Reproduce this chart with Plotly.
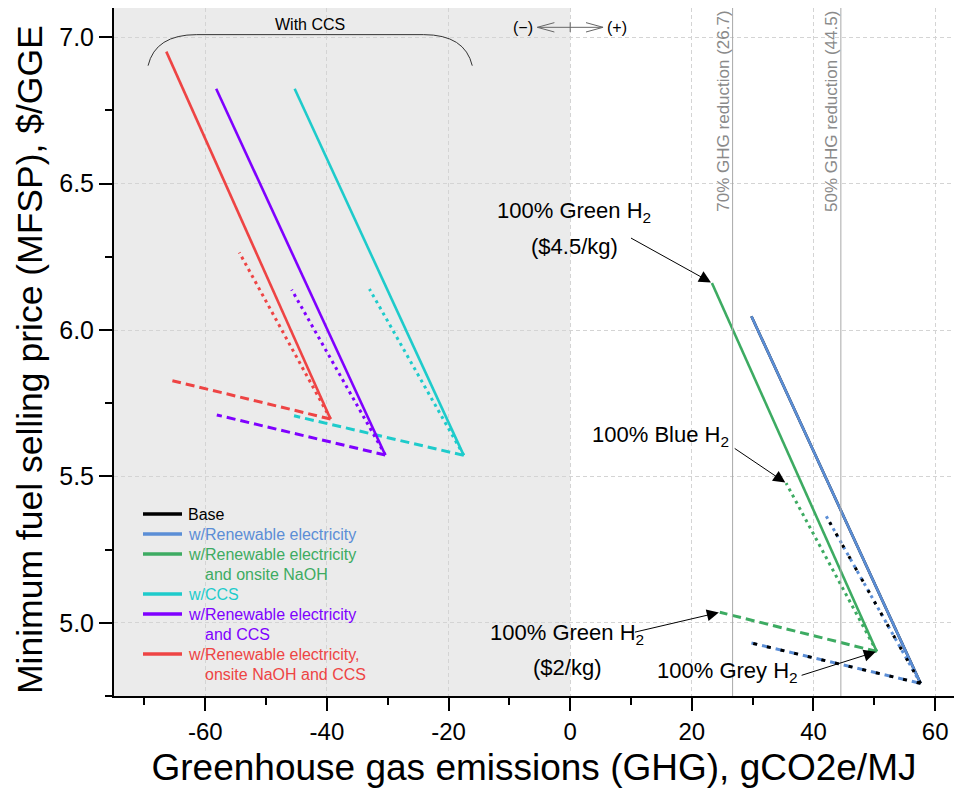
import plotly.graph_objects as go

# ---------------- data ----------------
scenarios = ["Base", "w/Renewable electricity", "w/Renewable electricity and onsite NaOH",
             "w/CCS", "w/Renewable electricity and CCS",
             "w/Renewable electricity, onsite NaOH and CCS"]
legend_labels = [["Base"], ["w/Renewable electricity"],
                 ["w/Renewable electricity", "and onsite NaOH"],
                 ["w/CCS"],
                 ["w/Renewable electricity", "and CCS"],
                 ["w/Renewable electricity,", "onsite NaOH and CCS"]]
colors = ["#000000", "#5b8ed6", "#3dab62", "#1ecbcb", "#7f00ff", "#ee4444"]

# 100% Grey H2 (common vertex)
grey_x = [57.6, 57.6, 50.4, -17.5, -30.4, -39.4]
grey_y = [4.793, 4.793, 4.902, 5.572, 5.573, 5.696]
# 100% Green H2 ($4.5/kg)  -> solid
green45_x = [29.8, 29.8, 23.3, -45.3, -58.2, -66.4]
green45_y = [6.047, 6.047, 6.161, 6.824, 6.824, 6.951]
# 100% Blue H2 -> dotted
blue_x = [42.1, 42.1, 35.5, -33.0, -45.8, -54.4]
blue_y = [5.364, 5.364, 5.477, 6.140, 6.138, 6.265]
# 100% Green H2 ($2/kg) -> dashed
green2_x = [29.8, 29.8, 24.6, -45.4, -58.1, -65.4]
green2_y = [4.931, 4.931, 5.036, 5.707, 5.710, 5.827]

ghg_thresholds = [26.7, 44.5]
threshold_labels = ["70% GHG reduction (26.7)", "50% GHG reduction (44.5)"]

x_tickvals = [-60, -40, -20, 0, 20, 40, 60]
x_ticktext = ["-60", "-40", "-20", "0", "20", "40", "60"]
y_tickvals = [5.0, 5.5, 6.0, 6.5, 7.0]
y_ticktext = ["5.0", "5.5", "6.0", "6.5", "7.0"]

X_RANGE = [-75, 63.1]
Y_RANGE = [4.75, 7.1]
FONT = "Arial, Liberation Sans, sans-serif"

# plot-area geometry (pixels) used for the hand-made legend / titles
W, H = 956, 807
ML, MR, MT, MB = 114, 2, 8, 111
PW, PH = W - ML - MR, H - MT - MB


def px_x(p):
    return (p - ML) / PW


def px_y(p):
    return (H - MB - p) / PH


fig = go.Figure()

SOLID_W = 2.6
DOT = "3px,4px"
DASH = "9px,5px"


def add_scenario(i, solid=True, others=True, dot=DOT, dash=DASH, width=3):
    c = colors[i]
    if solid:
        fig.add_trace(go.Scatter(x=[grey_x[i], green45_x[i]], y=[grey_y[i], green45_y[i]],
                                 mode="lines", line=dict(color=c, width=SOLID_W),
                                 name=scenarios[i], showlegend=False, hoverinfo="skip"))
    if others:
        fig.add_trace(go.Scatter(x=[grey_x[i], blue_x[i]], y=[grey_y[i], blue_y[i]],
                                 mode="lines", line=dict(color=c, width=width, dash=dot),
                                 showlegend=False, hoverinfo="skip"))
        fig.add_trace(go.Scatter(x=[grey_x[i], green2_x[i]], y=[grey_y[i], green2_y[i]],
                                 mode="lines", line=dict(color=c, width=width, dash=dash),
                                 showlegend=False, hoverinfo="skip"))


add_scenario(0, solid=True, others=False)
add_scenario(1)
add_scenario(0, solid=False, others=True, dot="3px,10px", dash="4px,10px", width=3)
for i in range(2, 6):
    add_scenario(i)

# ---------------- shapes ----------------
shapes = []
shapes.append(dict(type="rect", xref="x", yref="paper", x0=X_RANGE[0], x1=0, y0=0, y1=1,
                   fillcolor="#ebebeb", line=dict(width=0), layer="below"))
for t in ghg_thresholds:
    shapes.append(dict(type="line", xref="x", yref="paper", x0=t, x1=t, y0=0, y1=1,
                       line=dict(color="#a8a8a8", width=1)))
# "With CCS" bracket
shapes.append(dict(type="path", xref="x", yref="y",
                   path="M -69.4,6.903 Q -68.2,7.009 -61.4,7.009 L -24.1,7.009 Q -17.3,7.009 -16.1,6.903",
                   line=dict(color="#333333", width=1)))
# (-) <--|--> (+) indicator
shapes.append(dict(type="path", xref="x", yref="y",
                   path="M -5.4,7.034 L 5.4,7.034 M -2.6,7.050 L -5.4,7.034 L -2.6,7.018 "
                        "M 2.6,7.050 L 5.4,7.034 L 2.6,7.018 M 0,7.018 L 0,7.051",
                   line=dict(color="#666666", width=1)))

# ---------------- annotations ----------------
ann = []
ann.append(dict(x=-42.8, y=7.042, text="With CCS", showarrow=False,
                font=dict(size=16, color="#000000", family=FONT)))
ann.append(dict(x=-7.8, y=7.034, text="(\u2212)", showarrow=False,
                font=dict(size=16, color="#000000", family=FONT)))
ann.append(dict(x=7.7, y=7.034, text="(+)", showarrow=False,
                font=dict(size=16, color="#000000", family=FONT)))
for t, lbl in zip(ghg_thresholds, threshold_labels):
    ann.append(dict(x=t, y=6.748, text=lbl, showarrow=False, textangle=-90,
                    xshift=-10, font=dict(size=17, color="#8a8a8a", family=FONT)))

AF = dict(size=22, color="#000000", family=FONT)
ann.append(dict(x=0.66, y=6.403, text="100% Green H<sub>2</sub>", showarrow=False, font=AF))
ann.append(dict(x=0.66, y=6.287, text="($4.5/kg)", showarrow=False, font=AF))
ann.append(dict(x=14.8, y=5.638, text="100% Blue H<sub>2</sub>", showarrow=False, font=AF))
ann.append(dict(x=-0.5, y=4.962, text="100% Green H<sub>2</sub>", showarrow=False, font=AF))
ann.append(dict(x=-0.5, y=4.849, text="($2/kg)", showarrow=False, font=AF))
ann.append(dict(x=25.8, y=4.832, text="100% Grey H<sub>2</sub>", showarrow=False, font=AF))

arrow_tails = [(9.75, 6.317), (26.8, 5.599), (10.4, 4.967), (37.8, 4.819)]
arrow_tips = [(green45_x[2], green45_y[2]), (blue_x[2], blue_y[2]),
              (green2_x[2], green2_y[2]), (grey_x[2], grey_y[2])]
for (tx, ty), (hx, hy) in zip(arrow_tails, arrow_tips):
    ann.append(dict(x=hx, y=hy, ax=tx, ay=ty, axref="x", ayref="y", text="",
                    showarrow=True, arrowhead=2, arrowsize=2.4, arrowwidth=1,
                    arrowcolor="#000000", standoff=1))

# y-axis title placed like the original (centred slightly below the plot centre)
ann.append(dict(xref="paper", yref="paper", x=px_x(30), y=px_y(360),
                xanchor="center", yanchor="middle", textangle=-90, showarrow=False,
                text="Minimum fuel selling price (MFSP), $/GGE",
                font=dict(size=35.5, color="#000000", family=FONT)))

# ---------------- hand-made legend (tight line spacing like the original) ----------------
LEG_X0, LEG_X1, LEG_TXT, LEG_INDENT = 143, 182, 186, 203   # pixels
LEG_Y0, LEG_DY = 514, 20

row = 0
for i, lines in enumerate(legend_labels):
    yc = LEG_Y0 + row * LEG_DY
    shapes.append(dict(type="line", xref="paper", yref="paper",
                       x0=px_x(LEG_X0), x1=px_x(LEG_X1), y0=px_y(yc), y1=px_y(yc),
                       line=dict(color=colors[i], width=3.5)))
    for k, txt in enumerate(lines):
        yl = LEG_Y0 + (row + k) * LEG_DY
        ann.append(dict(xref="paper", yref="paper", x=px_x(LEG_TXT if k == 0 else LEG_INDENT),
                        y=px_y(yl), xanchor="left", yanchor="middle", text=txt,
                        showarrow=False, font=dict(size=16, color=colors[i], family=FONT)))
    row += len(lines)

fig.update_layout(
    width=W, height=H,
    margin=dict(l=ML, r=MR, t=MT, b=MB),
    paper_bgcolor="white", plot_bgcolor="white",
    font=dict(family=FONT, color="#000000"),
    shapes=shapes, annotations=ann,
    showlegend=False,
)
fig.update_xaxes(range=X_RANGE, tickvals=x_tickvals, ticktext=x_ticktext,
                 showline=True, linecolor="black", linewidth=2, mirror=False,
                 ticks="outside", ticklen=13, tickwidth=2, tickcolor="black",
                 minor=dict(ticks="outside", ticklen=7, tickwidth=2, tickcolor="black",
                            dtick=10, tick0=0, showgrid=False),
                 showgrid=True, gridcolor="#d4d4d4", gridwidth=1, griddash="4px,3px",
                 zeroline=False, tickfont=dict(size=24, family=FONT),
                 title=dict(text="Greenhouse gas emissions (GHG), gCO2e/MJ",
                            font=dict(size=37, family=FONT), standoff=10))
fig.update_yaxes(range=Y_RANGE, tickvals=y_tickvals, ticktext=y_ticktext,
                 showline=True, linecolor="black", linewidth=2, mirror=False,
                 ticks="outside", ticklen=13, tickwidth=2, tickcolor="black",
                 minor=dict(ticks="outside", ticklen=7, tickwidth=2, tickcolor="black",
                            dtick=0.25, tick0=0, showgrid=False),
                 showgrid=True, gridcolor="#d4d4d4", gridwidth=1, griddash="4px,3px",
                 zeroline=False, tickfont=dict(size=25, family=FONT))

fig.write_html("out.html")
